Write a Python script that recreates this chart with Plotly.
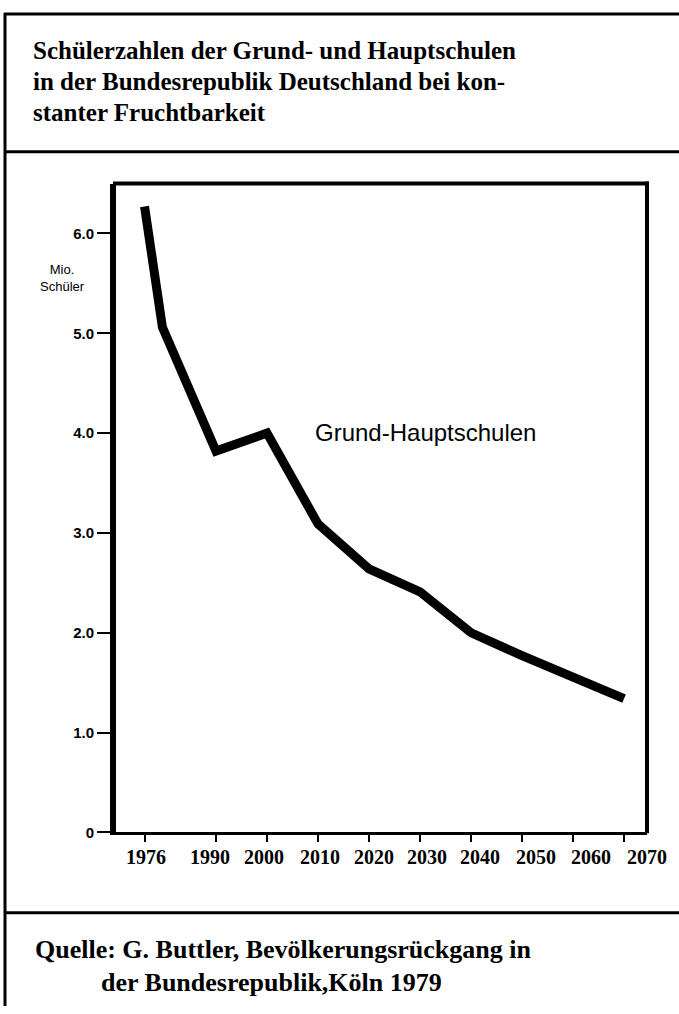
import plotly.graph_objects as go

W, H = 679, 1014

# Data (millions of pupils)
years = [1976, 1979.5, 1990, 2000, 2010, 2020, 2030, 2040, 2050, 2060, 2070]
pupils = [6.27, 5.06, 3.82, 4.0, 3.09, 2.64, 2.41, 2.0, 1.77, 1.56, 1.34]

x_ticks = [1976, 1990, 2000, 2010, 2020, 2030, 2040, 2050, 2060, 2070]
x_labels = ["1976", "1990", "2000", "2010", "2020", "2030", "2040", "2050", "2060", "2070"]
x_label_pos = [1976.3, 1988.8, 1999.4, 2010.4, 2021.0, 2031.4, 2041.8, 2052.7, 2063.5, 2074.5]
y_ticks = [0, 1, 2, 3, 4, 5, 6]
y_labels = ["0", "1.0", "2.0", "3.0", "4.0", "5.0", "6.0"]

title_lines = [
    "Schülerzahlen der Grund- und Hauptschulen",
    "in der Bundesrepublik Deutschland bei kon-",
    "stanter Fruchtbarkeit",
]
source_lines = [
    "Quelle: G. Buttler, Bevölkerungsrückgang in",
    "der Bundesrepublik,Köln 1979",
]

def px(x):
    return x / W

def py(y):
    return 1 - y / H

fig = go.Figure()
fig.add_trace(go.Scatter(
    x=years, y=pupils, mode="lines",
    line=dict(color="black", width=9),
    hoverinfo="skip", showlegend=False,
))

serif = "Liberation Serif"
sans = "Liberation Sans"

annotations = []
for i, t in enumerate(title_lines):
    annotations.append(dict(text="<b>" + t + "</b>", x=px(31), y=py(51 + i * 31), xref="paper", yref="paper",
                            xanchor="left", yanchor="middle", showarrow=False,
                            font=dict(family=serif, size=25, color="black")))
annotations.append(dict(text="<b>" + source_lines[0] + "</b>", x=px(33), y=py(957), xref="paper", yref="paper",
                        xanchor="left", yanchor="middle", showarrow=False,
                        font=dict(family=serif, size=26, color="black")))
annotations.append(dict(text="<b>" + source_lines[1] + "</b>", x=px(99), y=py(990), xref="paper", yref="paper",
                        xanchor="left", yanchor="middle", showarrow=False,
                        font=dict(family=serif, size=26, color="black")))
for xp, lab in zip(x_label_pos, x_labels):
    annotations.append(dict(text="<b>" + lab + "</b>", x=xp, y=py(864), xref="x", yref="paper",
                            xanchor="center", yanchor="middle", showarrow=False,
                            font=dict(family=serif, size=20, color="black")))
annotations.append(dict(text="Grund-Hauptschulen", x=px(313), y=py(436), xref="paper", yref="paper",
                        xanchor="left", yanchor="middle", showarrow=False,
                        font=dict(family=sans, size=24, color="black")))
annotations.append(dict(text="Mio.<br>Schüler", x=px(62), y=py(280), xref="paper", yref="paper",
                        xanchor="center", yanchor="middle", showarrow=False,
                        font=dict(family=sans, size=13, color="black")))

shapes = [
    dict(type="line", xref="paper", yref="paper", x0=px(4), x1=1, y0=py(14), y1=py(14),
         line=dict(color="black", width=3)),
    dict(type="line", xref="paper", yref="paper", x0=px(4), x1=1, y0=py(153), y1=py(153),
         line=dict(color="black", width=3)),
    dict(type="line", xref="paper", yref="paper", x0=px(4), x1=1, y0=py(920), y1=py(920),
         line=dict(color="black", width=3)),
    dict(type="line", xref="paper", yref="paper", x0=px(5), x1=px(5), y0=py(13), y1=0,
         line=dict(color="black", width=3)),
    dict(type="line", xref="paper", yref="paper", x0=px(113), x1=px(649), y0=py(185), y1=py(185),
         line=dict(color="black", width=4)),
    dict(type="line", xref="paper", yref="paper", x0=px(647), x1=px(647), y0=py(183), y1=py(840),
         line=dict(color="black", width=4)),
]

fig.update_layout(
    width=W, height=H,
    margin=dict(l=0, r=0, t=0, b=0),
    paper_bgcolor="white", plot_bgcolor="white",
    showlegend=False,
    annotations=annotations,
    shapes=shapes,
    xaxis=dict(
        domain=[px(116), px(647)],
        range=[1970.4, 2074.5],
        tickmode="array", tickvals=x_ticks, ticktext=x_labels,
        showticklabels=False,
        ticks="outside", ticklen=7, tickwidth=2, tickcolor="black",
        showline=True, linewidth=3, linecolor="black",
        showgrid=False, zeroline=False, fixedrange=True,
    ),
    yaxis=dict(
        domain=[py(839), py(185)],
        range=[0, 6.5],
        tickmode="array", tickvals=y_ticks, ticktext=y_labels,
        ticks="outside", ticklen=13, tickwidth=2, tickcolor="black",
        tickfont=dict(family=sans, size=15, color="black", weight="bold"),
        showline=True, linewidth=6, linecolor="black",
        showgrid=False, zeroline=False, fixedrange=True,
    ),
)

post = (
    "document.documentElement.style.margin='0px';"
    "document.body.style.margin='0px';"
    "document.documentElement.style.overflow='hidden';"
    "document.body.style.overflow='hidden';"
    "var d=document.querySelector('.plotly-graph-div');"
    "if(d){d.style.position='fixed';d.style.left='0px';d.style.top='0px';}"
)
fig.write_html("out.html", config={"displayModeBar": False}, post_script=post)
